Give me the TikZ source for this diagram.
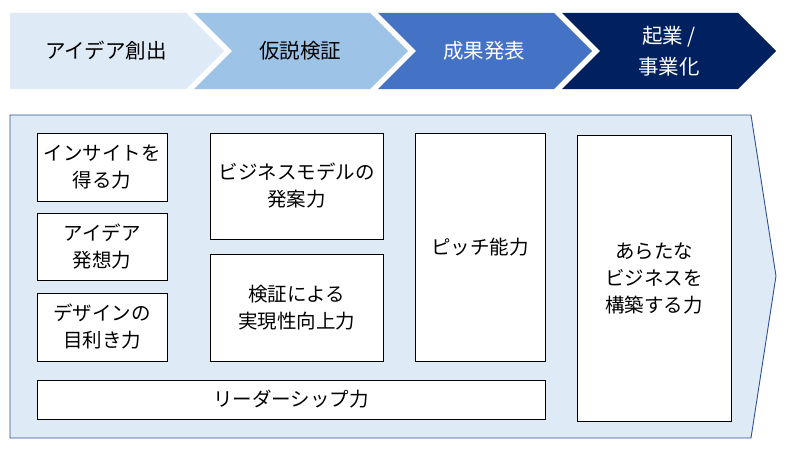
\documentclass[tikz,border=0pt]{standalone}
\usepackage{fontspec}
\setmainfont{Noto Sans CJK JP}
\definecolor{chevA}{HTML}{DEEBF7}
\definecolor{chevB}{HTML}{9DC3E6}
\definecolor{chevC}{HTML}{4472C4}
\definecolor{chevD}{HTML}{002060}
\definecolor{frameLine}{HTML}{2F528F}
\pgfmathsetmacro{\chevStep}{184}
\pgfmathsetmacro{\chevBody}{176}
\pgfmathsetmacro{\chevTip}{38}
\tikzset{
	chevtext/.style= {
		align=center, inner sep=0,
		font=\fontsize{20.5}{31}\selectfont
	},
	skill/.style= {
		draw=black, fill=white,
		line width=0.8pt, inner sep=0,
		align=center,
		font=\fontsize{19.5}{27}\selectfont
	},
	frame/.style= {
		draw=frameLine, fill=chevA,
		line width=0.9pt
	}
}

\begin{document}
\begin{tikzpicture}[x=1pt,y=-1pt]
\useasboundingbox (0,0) rectangle (806,452);
% phase chevrons
\foreach \i/\col/\tcol/\tx/\lbl in {0/chevA/black/106/{アイデア創出},1/chevB/black/300/{仮説検証},2/chevC/white/484/{成果発表},3/chevD/white/669/{起業 /\\事業化}}{%
	\pgfmathsetmacro\xl{10+\i*\chevStep}
	\pgfmathsetmacro\notch{\i>0 ? \chevTip : 0}
	\fill[\col] (\xl,13) -- (\xl+\chevBody,13) -- (\xl+\chevBody+\chevTip,51) -- (\xl+\chevBody,89) -- (\xl,89) -- (\xl+\notch,51) -- cycle;
	\node[chevtext, text=\tcol] (phase\i) at (\tx,51) {\lbl};
}

% big arrow frame
\draw[frame] (10,115) -- (751,115) -- (776,276) -- (751,438) -- (10,438) -- cycle;

% skills
\node[skill, minimum width=130pt, minimum height=68pt] (insight) at (102,167) {インサイトを\\得る力};
\node[skill, minimum width=130pt, minimum height=67pt] (idea) at (102,246.5) {アイデア\\発想力};
\node[skill, minimum width=130pt, minimum height=68pt] (design) at (102,327) {デザインの\\目利き力};
\node[skill, minimum width=173pt, minimum height=106pt] (model) at (296.5,186) {ビジネスモデルの\\発案力};
\node[skill, minimum width=173pt, minimum height=107pt] (verify) at (296.5,307.5) {検証による\\実現性向上力};
\node[skill, minimum width=130pt, minimum height=228pt] (pitch) at (480,247) {ピッチ能力};
\node[skill, minimum width=154pt, minimum height=286pt] (newbiz) at (654,278) {あらたな\\ビジネスを\\構築する力};
\node[skill, minimum width=508pt, minimum height=39pt] (leader) at (291,399.5) {リーダーシップ力};
\end{tikzpicture}
\end{document}
